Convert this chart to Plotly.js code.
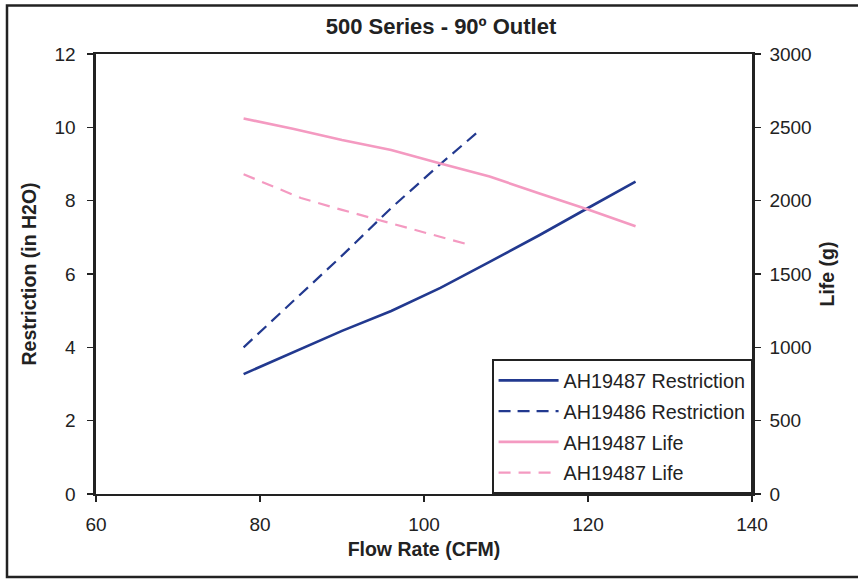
<!DOCTYPE html>
<html>
<head>
<meta charset="utf-8">
<script src="https://cdn.plot.ly/plotly-3.0.1.min.js"></script>
<style>html,body{margin:0;padding:0;background:#fff;}#chart{width:858px;height:580px;}</style>
</head>
<body>
<div id="chart"></div>
<script>
// Data
var flowRestr87 = [78, 84, 90, 96, 102, 108, 114, 120, 125.8];
var restr87 = [3.27, 3.85, 4.45, 4.99, 5.62, 6.33, 7.05, 7.8, 8.52];

var flowRestr86 = [78, 84, 90, 96, 102, 106.8];
var restr86 = [4.0, 5.25, 6.5, 7.8, 9.0, 9.92];

var flowLife87 = [78, 84, 90, 96, 102, 108, 114, 120, 125.8];
var life87 = [2560, 2490, 2413, 2345, 2254, 2165, 2050, 1940, 1825];

var flowLife87b = [78, 85, 90, 96, 102, 105.8];
var life87b = [2180, 2018, 1937, 1845, 1752, 1695];

var names = ["AH19487 Restriction", "AH19486 Restriction", "AH19487 Life", "AH19487 Life"];

var blue = "#22398f";
var pink = "#f49ac1";
var font = "Liberation Sans, Arial, sans-serif";

var traces = [
  {x: flowRestr87, y: restr87, name: names[0], mode: "lines", legendgroup: "a",
   line: {color: blue, width: 2.6}},
  {x: flowRestr86, y: restr86, name: names[1], mode: "lines", legendgroup: "b",
   line: {color: blue, width: 2.2, dash: "12px,7px"}},
  {x: flowLife87, y: life87, name: names[2], mode: "lines", yaxis: "y2", legendgroup: "c",
   line: {color: pink, width: 2.6}},
  {x: flowLife87b, y: life87b, name: names[3], mode: "lines", yaxis: "y2", legendgroup: "d",
   line: {color: pink, width: 2.2, dash: "12px,8px"}}
];

var layout = {
  width: 858, height: 580,
  margin: {l: 96, r: 106, t: 53.5, b: 86, pad: 0},
  paper_bgcolor: "#fff", plot_bgcolor: "#fff",
  font: {family: font, color: "#222", size: 19},
  title: {text: "<b>500 Series - 90º Outlet</b>", x: 0.514, xanchor: "center", y: 0.955, yanchor: "middle",
          font: {size: 22, family: font, color: "#222"}},
  showlegend: true,
  legend: {x: 0.603, y: 0, xanchor: "left", yanchor: "bottom",
           bordercolor: "#222", borderwidth: 2, bgcolor: "#fff",
           font: {size: 19.8, family: font, color: "#222"},
           traceorder: "grouped", tracegroupgap: 2, itemwidth: 60},
  xaxis: {range: [60, 140], dtick: 20, tick0: 60, showgrid: false, zeroline: false,
          showline: true, linecolor: "#222", linewidth: 1.6, mirror: true,
          ticks: "outside", ticklen: 6, tickwidth: 1.6, tickcolor: "#222",
          ticklabelstandoff: 7,
          tickfont: {size: 19, family: font, color: "#222"},
          title: {text: "<b>Flow Rate (CFM)</b>", standoff: 8, font: {size: 19.5, family: font, color: "#222"}}},
  yaxis: {range: [0, 12], dtick: 2, showgrid: false, zeroline: false,
          showline: true, linecolor: "#222", linewidth: 2.6,
          ticks: "outside", ticklen: 6, tickwidth: 1.6, tickcolor: "#222",
          ticklabelstandoff: 8,
          tickfont: {size: 19, family: font, color: "#222"},
          title: {text: "<b>Restriction (in H2O)</b>", standoff: 13, font: {size: 19.5, family: font, color: "#222"}}},
  yaxis2: {range: [0, 3000], dtick: 500, overlaying: "y", side: "right",
           showgrid: false, zeroline: false,
           showline: true, linecolor: "#222", linewidth: 2.6,
           ticks: "outside", ticklen: 6, tickwidth: 1.6, tickcolor: "#222",
           ticklabelstandoff: 5,
           tickfont: {size: 19, family: font, color: "#222"},
           title: {text: "<b>Life (g)</b>", standoff: 10, font: {size: 19.5, family: font, color: "#222"}}},
  shapes: [
    {type: "rect", xref: "paper", yref: "paper",
     x0: (7 - 96) / 656, x1: (870 - 96) / 656,
     y0: (494 - 577) / 440.5, y1: (494 - 5) / 440.5,
     line: {color: "#222", width: 2.5}, layer: "below"}
  ]
};

Plotly.newPlot("chart", traces, layout, {staticPlot: true, displayModeBar: false});
</script>
</body>
</html>
